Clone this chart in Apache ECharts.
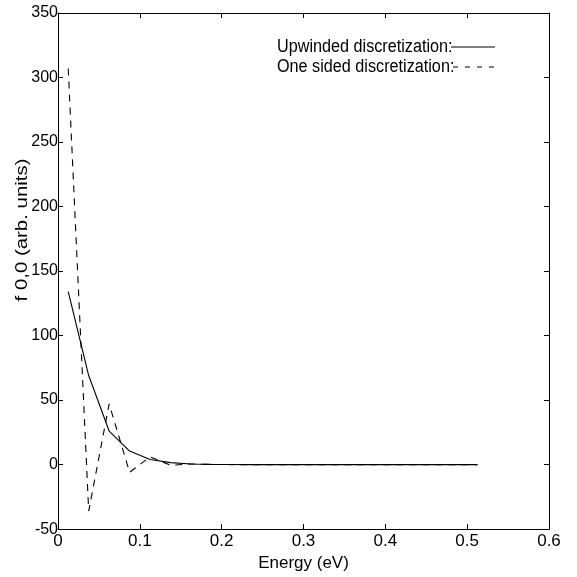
<!DOCTYPE html>
<html><head><meta charset="utf-8">
<script src="https://cdn.jsdelivr.net/npm/echarts@6/dist/echarts.min.js"></script>
<style>html,body{margin:0;padding:0;background:#fff;overflow:hidden;width:577px;height:577px}#c{width:577px;height:577px}</style>
</head><body><div id="c"></div>
<script>
const energy = [0.0125,0.0375,0.0625,0.0875,0.1125,0.1375,0.1625,0.1875,0.2125,0.2375,0.2625,0.2875,0.3125,0.3375,0.3625,0.3875,0.4125,0.4375,0.4625,0.4875,0.5125];
const upwinded = [134,69,26,10.5,4,1.5,0.5,0.2,0.1,0,0,0,0,0,0,0,0,0,0,0,0];
const oneSided = [307,-36,47,-6,6,-0.5,0.5,0.1,0,0,0,0,0,0,0,0,0,0,0,0,0];
const xTicks = [0,0.1,0.2,0.3,0.4,0.5,0.6];
const yTicks = [-50,0,50,100,150,200,250,300,350];
const seriesNames = ['Upwinded discretization:', 'One sided discretization:'];
const xName = 'Energy (eV)';
const yName = 'f 0,0 (arb. units)';

const font = '"Liberation Sans", Arial, Helvetica, sans-serif';
const chart = echarts.init(document.getElementById('c'), null, {width:577, height:577});
const pair = (ys) => energy.map((x,i)=>[x, ys[i]]);
const axisCommon = () => ({
  axisLine:{show:true,onZero:false,lineStyle:{color:'#000',width:1}},
  axisTick:{show:true,inside:true,length:5,lineStyle:{color:'#000'}},
  splitLine:{show:false}
});
chart.setOption({
  animation:false,
  backgroundColor:'#fff',
  grid:{left:58,right:28,top:13,bottom:47},
  xAxis:[
    Object.assign({type:'value',min:xTicks[0],max:xTicks[xTicks.length-1],interval:0.1,position:'bottom',
      name:xName,nameLocation:'middle',nameGap:25,
      nameTextStyle:{fontFamily:font,fontSize:17,color:'#000'},
      axisLabel:{fontFamily:font,fontSize:17,color:'#000',margin:4,formatter:v=>String(+v.toFixed(1))}},axisCommon()),
    Object.assign({type:'value',min:xTicks[0],max:xTicks[xTicks.length-1],interval:0.1,position:'top',axisLabel:{show:false}},axisCommon())
  ],
  yAxis:[
    Object.assign({type:'value',min:yTicks[0],max:yTicks[yTicks.length-1],interval:50,position:'left',
      axisLabel:{fontFamily:font,fontSize:16,color:'#000',margin:0}},axisCommon()),
    Object.assign({type:'value',min:yTicks[0],max:yTicks[yTicks.length-1],interval:50,position:'right',axisLabel:{show:false}},axisCommon())
  ],
  series:[
    {name:seriesNames[0],type:'line',data:pair(upwinded),showSymbol:false,lineStyle:{color:'#000',width:1.1}},
    {name:seriesNames[1],type:'line',data:pair(oneSided),showSymbol:false,lineStyle:{color:'#000',width:1.1,type:[7,6]}}
  ],
  graphic:[
    {type:'text',x:277,y:47,scaleX:0.9,style:{text:seriesNames[0],font:'18px '+font,fill:'#000',verticalAlign:'middle'}},
    {type:'line',shape:{x1:451,y1:47,x2:495,y2:47},style:{stroke:'#000',lineWidth:1}},
    {type:'text',x:277,y:67,scaleX:0.9,style:{text:seriesNames[1],font:'18px '+font,fill:'#000',verticalAlign:'middle'}},
    {type:'line',shape:{x1:453,y1:67,x2:495,y2:67},style:{stroke:'#000',lineWidth:1,lineDash:[5,7]}},
    {type:'text',x:23,y:230,rotation:Math.PI/2,scaleX:1.2,scaleY:0.95,style:{text:yName,font:'17px '+font,fill:'#000',align:'center',verticalAlign:'middle'}}
  ]
});
</script></body></html>
